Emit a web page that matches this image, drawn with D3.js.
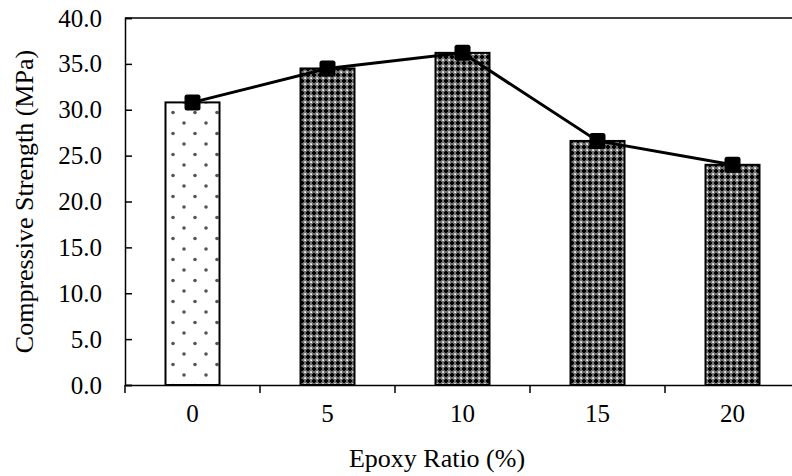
<!DOCTYPE html>
<html>
<head>
<meta charset="utf-8">
<script src="https://cdn.jsdelivr.net/npm/d3@7"></script>
<style>
  body { margin: 0; background: #fff; }
  text { font-family: "Liberation Serif", "Times New Roman", serif; fill: #000; }
</style>
</head>
<body>
<div id="chart"></div>
<script>
// data
const categories = ['0', '5', '10', '15', '20'];
const strength = [30.8, 34.5, 36.2, 26.6, 24.0];
const yTicks = [0, 5, 10, 15, 20, 25, 30, 35, 40];

let margin = {top: 18, right: -8, bottom: 91, left: 125},
    W = 792, H = 476,
    width = W - margin.left - margin.right,
    height = H - margin.top - margin.bottom;

const svg = d3.select('#chart').append('svg')
    .attr('width', W)
    .attr('height', H);

// patterns
const defs = svg.append('defs');

const dots = defs.append('pattern')
    .attr('id', 'dots')
    .attr('patternUnits', 'userSpaceOnUse')
    .attr('x', 169).attr('y', 294)
    .attr('width', 22).attr('height', 21);
dots.append('rect').attr('width', 22).attr('height', 21).attr('fill', '#fff');
[[0, 0], [22, 0], [0, 21], [22, 21], [11, 10.5]].forEach(p => {
    dots.append('circle').attr('cx', p[0]).attr('cy', p[1]).attr('r', 1.8).attr('fill', '#555');
});

const grid = defs.append('pattern')
    .attr('id', 'grid')
    .attr('patternUnits', 'userSpaceOnUse')
    .attr('width', 6).attr('height', 6);
grid.append('rect').attr('width', 6).attr('height', 6).attr('fill', '#707070');
grid.append('rect').attr('x', 1).attr('y', 2).attr('width', 4).attr('height', 2).attr('fill', '#000');
grid.append('rect').attr('x', 2).attr('y', 1).attr('width', 2).attr('height', 4).attr('fill', '#000');
[[0, 0, '#fff'], [5, 0, '#c8c8c8'], [0, 5, '#c8c8c8'], [5, 5, '#c8c8c8']].forEach(p => {
    grid.append('rect').attr('x', p[0]).attr('y', p[1]).attr('width', 1).attr('height', 1).attr('fill', p[2]);
});

const g = svg.append('g')
    .attr('transform', 'translate(' + margin.left + ',' + margin.top + ')');

// scales
let x = d3.scaleBand()
    .domain(categories)
    .range([0, width])
    .paddingInner(0.6)
    .paddingOuter(0.3);

let y = d3.scaleLinear()
    .domain([0, 40])
    .range([height, 0]);

// bars
g.selectAll('.bar')
    .data(strength).enter()
    .append('rect')
    .attr('x', (d, i) => x(categories[i]))
    .attr('y', d => y(d))
    .attr('width', x.bandwidth())
    .attr('height', d => height - y(d))
    .attr('fill', (d, i) => i === 0 ? 'url(#dots)' : 'url(#grid)')
    .attr('stroke', '#000')
    .attr('stroke-width', 2);

// top border
g.append('line')
    .attr('x1', 0).attr('x2', width)
    .attr('y1', 0).attr('y2', 0)
    .attr('stroke', '#000').attr('stroke-width', 1.5);

// y axis (ticks inside)
const yAxis = g.append('g')
    .call(d3.axisLeft(y).tickValues(yTicks).tickFormat(d3.format('.1f')).tickSize(-7).tickPadding(23));
yAxis.select('.domain').attr('stroke-width', 1.5);
yAxis.selectAll('.tick line').attr('stroke-width', 1.5);
yAxis.selectAll('text').style('font-size', '25px').style('font-family', '"Liberation Serif", serif');

// x axis: labels centred, ticks at band edges
const xAxis = g.append('g')
    .attr('transform', 'translate(0,' + height + ')')
    .call(d3.axisBottom(x).tickSize(0).tickPadding(19));
xAxis.select('.domain').attr('stroke-width', 1.5);
xAxis.selectAll('text').style('font-size', '25px').style('font-family', '"Liberation Serif", serif');

const step = x.step();
const edges = d3.range(categories.length + 1).map(i => x(categories[0]) - x.paddingOuter() * step + i * step);
xAxis.selectAll('.edge')
    .data(edges).enter()
    .append('line')
    .attr('x1', d => d).attr('x2', d => d)
    .attr('y1', 0).attr('y2', 8)
    .attr('stroke', '#000').attr('stroke-width', 1.5);

// line + markers
const line = d3.line()
    .x((d, i) => x(categories[i]) + x.bandwidth() / 2)
    .y(d => y(d));

g.append('path')
    .datum(strength)
    .attr('d', line)
    .attr('fill', 'none')
    .attr('stroke', '#000')
    .attr('stroke-width', 3);

g.selectAll('.marker')
    .data(strength).enter()
    .append('rect')
    .attr('x', (d, i) => x(categories[i]) + x.bandwidth() / 2 - 8)
    .attr('y', d => y(d) - 8)
    .attr('width', 16).attr('height', 16)
    .attr('rx', 2.5)
    .attr('fill', '#000');

// axis titles
svg.append('text')
    .attr('x', 437)
    .attr('y', 467)
    .attr('text-anchor', 'middle')
    .style('font-size', '26px')
    .text('Epoxy Ratio (%)');

svg.append('text')
    .attr('transform', 'translate(33,' + (margin.top + height / 2) + ') rotate(-90)')
    .attr('text-anchor', 'middle')
    .style('font-size', '26px')
    .text('Compressive Strength (MPa)');
</script>
</body>
</html>
